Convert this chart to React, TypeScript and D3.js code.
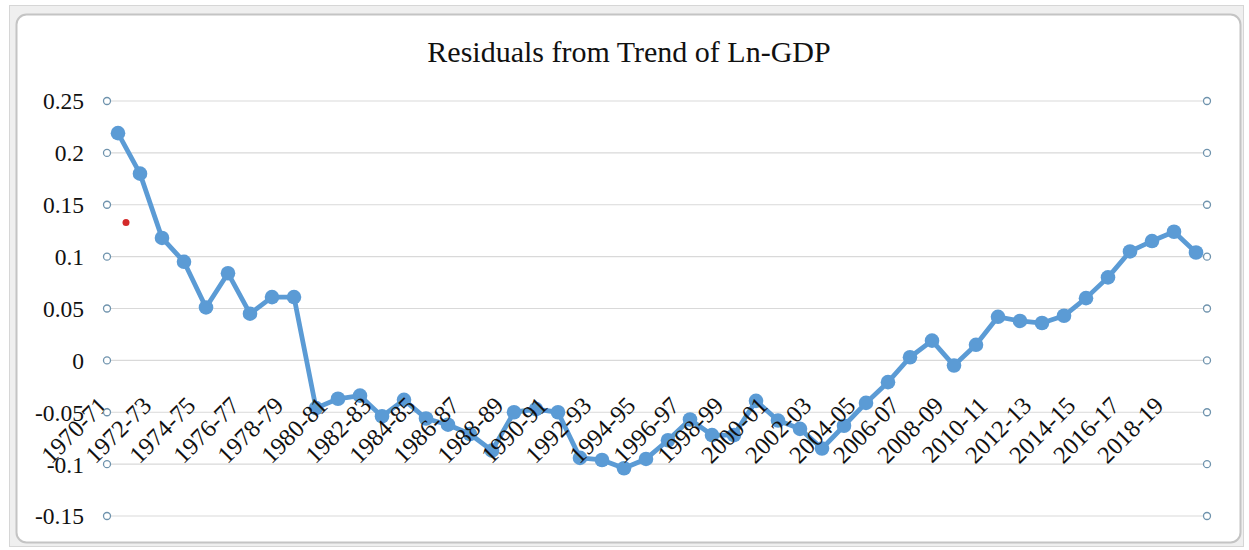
import React from "react";
import * as d3 from "d3";

// Fiscal-year categories and the residual of ln(GDP) from its trend
const categories: string[] = [
  "1970-71", "1971-72", "1972-73", "1973-74", "1974-75", "1975-76", "1976-77", "1977-78",
  "1978-79", "1979-80", "1980-81", "1981-82", "1982-83", "1983-84", "1984-85", "1985-86",
  "1986-87", "1987-88", "1988-89", "1989-90", "1990-91", "1991-92", "1992-93", "1993-94",
  "1994-95", "1995-96", "1996-97", "1997-98", "1998-99", "1999-00", "2000-01", "2001-02",
  "2002-03", "2003-04", "2004-05", "2005-06", "2006-07", "2007-08", "2008-09", "2009-10",
  "2010-11", "2011-12", "2012-13", "2013-14", "2014-15", "2015-16", "2016-17", "2017-18",
  "2018-19", "2019-20",
];

const residuals: number[] = [
  0.219, 0.18, 0.118, 0.095, 0.051, 0.084, 0.045, 0.061,
  0.061, -0.046, -0.037, -0.034, -0.054, -0.038, -0.056, -0.062,
  -0.071, -0.087, -0.05, -0.047, -0.05, -0.094, -0.096, -0.104,
  -0.095, -0.077, -0.057, -0.072, -0.072, -0.039, -0.058, -0.066,
  -0.085, -0.063, -0.041, -0.021, 0.003, 0.019, -0.005, 0.015,
  0.042, 0.038, 0.036, 0.043, 0.06, 0.08, 0.105, 0.115,
  0.124, 0.104,
];

const yTicks: number[] = [-0.15, -0.1, -0.05, 0, 0.05, 0.1, 0.15, 0.2, 0.25];

// Every other category gets a label on the axis
const shownLabels: string[] = categories.filter((_, i) => i % 2 === 0);

// Stray annotation point near the top-left of the plot
const markerPoint = { category: "1970-71", value: 0.133 };

const W = 1249;
const H = 550;
const FONT = '"Liberation Serif", "Times New Roman", serif';

const x = d3.scaleBand<string>().domain(categories).range([107, 1207]).padding(0);
const y = d3.scaleLinear().domain([-0.15, 0.25]).range([516, 101]);
const cx = (c: string) => (x(c) as number) + x.bandwidth() / 2;
const fmt = (d: number) => String(+d.toFixed(2));

const linePath = d3.line<number>()
  .x((_, i) => cx(categories[i]))
  .y((d) => y(d))(residuals) as string;

const textStyle = (size: number): React.CSSProperties => ({
  fontFamily: FONT,
  fontSize: `${size}px`,
  fill: "#111",
});

export default function App() {
  return (
    <svg
      width={W}
      height={H}
      style={{ position: "absolute", left: 0, top: 0, background: "#fff" }}
    >
      {/* window frame */}
      <rect x={9.5} y={5.5} width={1234} height={541} fill="#efefef" stroke="#d6d6d6" />
      <rect x={16.5} y={14.5} width={1224} height={528} rx={10} fill="#fff" stroke="#c4c4c4" strokeWidth={2} />

      {/* title */}
      <text x={629} y={62} textAnchor="middle" style={textStyle(30)}>
        Residuals from Trend of Ln-GDP
      </text>

      {/* gridlines */}
      <g>
        {yTicks.map((t) => (
          <line key={t} x1={107} x2={1207} y1={y(t)} y2={y(t)} stroke="#d9d9d9" strokeWidth={1.2} />
        ))}
      </g>

      {/* y tick labels */}
      <g>
        {yTicks.map((t) => (
          <text key={t} x={84} y={y(t)} dy="0.36em" textAnchor="end" style={textStyle(23.5)}>
            {fmt(t)}
          </text>
        ))}
      </g>

      {/* series */}
      <path d={linePath} fill="none" stroke="#5b9bd5" strokeWidth={4.8} strokeLinejoin="round" />
      <g>
        {residuals.map((v, i) => (
          <circle key={categories[i]} cx={cx(categories[i])} cy={y(v)} r={7.3} fill="#5b9bd5" />
        ))}
      </g>

      {/* category labels */}
      <g>
        {shownLabels.map((c) => (
          <text
            key={c}
            transform={`translate(${cx(c) - 9},${407}) rotate(-45)`}
            textAnchor="end"
            style={textStyle(24.5)}
          >
            {c}
          </text>
        ))}
      </g>

      {/* handles at the ends of each gridline */}
      <g>
        {[107, 1207].map((hx) =>
          yTicks.map((t) => (
            <circle key={`${hx}-${t}`} cx={hx} cy={y(t)} r={3.5} fill="#fff" stroke="#6f93ad" strokeWidth={1.3} />
          ))
        )}
      </g>

      {/* red marker */}
      <circle cx={cx(markerPoint.category) + 8} cy={y(markerPoint.value)} r={3.5} fill="#d42a2a" />
    </svg>
  );
}
